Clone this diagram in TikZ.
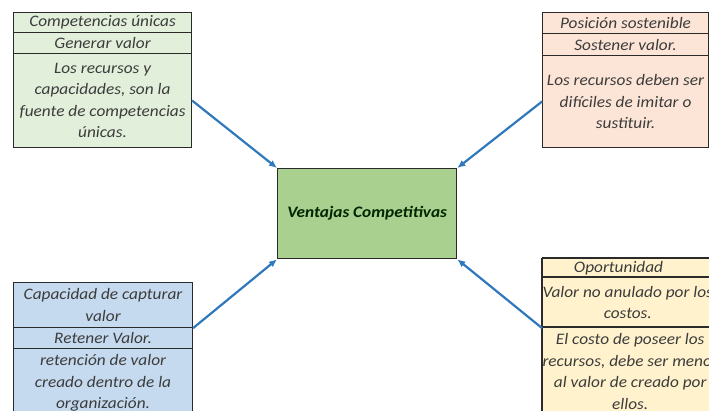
\documentclass[tikz,border=0pt]{standalone}
\usepackage{fontspec}
\setmainfont{Carlito}[FakeStretch=1.08]
\usetikzlibrary{arrows.meta,backgrounds}

\definecolor{greenpale}{HTML}{E2EFDA}
\definecolor{peach}{HTML}{FCE4D6}
\definecolor{bluepale}{HTML}{C5DAEF}
\definecolor{cream}{HTML}{FFF2CC}
\definecolor{greenmid}{HTML}{A9D08E}
\definecolor{arrowblue}{HTML}{2F78BC}
\definecolor{txt}{HTML}{3C3C3C}
\definecolor{border}{HTML}{2A2A2A}

\tikzset{
  cell/.style={draw=border, line width=1.1pt, anchor=north west, inner sep=0pt,
    align=center, text=txt,
    font=\fontsize{16}{21.5}\selectfont\itshape},
  plaincell/.style={cell, draw=none},
  hub/.style={draw=border, line width=1.3pt, fill=greenmid, anchor=north west,
    minimum width=179pt, minimum height=90pt, inner sep=0pt,
    text=black!85!green, font=\fontsize{16}{20}\selectfont\bfseries\itshape},
  link/.style={draw=arrowblue, line width=2.2pt,
    -{Latex[length=8pt,width=7pt]}},
  edge/.style={draw=border, line width=1.1pt}
}

\begin{document}
\begin{tikzpicture}[x=1pt,y=-1pt]
  \useasboundingbox (0,0) rectangle (709,410);
  \clip (0,0) rectangle (709,410);

  % central box
  \node[hub] (hub) at (277,168) {Ventajas Competitivas};

  % upper left box
  \node[cell, fill=greenpale, minimum width=178pt, minimum height=20pt]
    (tl1) at (13,12) {Competencias únicas};
  \node[cell, fill=greenpale, minimum width=178pt, minimum height=21pt]
    (tl2) at (13,32) {Generar valor};
  \node[cell, fill=greenpale, minimum width=178pt, minimum height=94pt]
    (tl3) at (13,53) {Los recursos y\\capacidades, son la\\fuente de competencias\\únicas.};

  % upper right box
  \node[cell, fill=peach, minimum width=166pt, minimum height=21pt]
    (tr1) at (542,12) {Posición sostenible};
  \node[cell, fill=peach, minimum width=166pt, minimum height=22pt]
    (tr2) at (542,33) {Sostener valor.};
  \node[cell, fill=peach, minimum width=166pt, minimum height=92pt]
    (tr3) at (542,55) {Los recursos deben ser\\difíciles de imitar o\\sustituir.};

  % lower left box
  \node[cell, fill=bluepale, minimum width=179pt, minimum height=45pt]
    (bl1) at (13,282) {Capacidad de capturar\\valor};
  \node[cell, fill=bluepale, minimum width=179pt, minimum height=21pt]
    (bl2) at (13,327) {Retener Valor.};
  \node[cell, fill=bluepale, minimum width=179pt, minimum height=69pt]
    (bl3) at (13,348) {retención de valor\\creado dentro de la\\organización.};

  % lower right box, running past the right edge
  \node[plaincell, fill=cream, minimum width=152pt, minimum height=19pt]
    (br1) at (542,258) {Oportunidad};
  \node[plaincell, fill=cream, minimum width=152pt, minimum height=50pt]
    (br2) at (542,277) {Valor no anulado por los\\costos.};
  \node[plaincell, fill=cream, minimum width=152pt, minimum height=88pt]
    (br3) at (542,327) {El costo de poseer los\\recursos, debe ser menor\\al valor de creado por\\ellos.};
  \begin{scope}[on background layer]
    \fill[cream] (br1.north east) rectangle ([xshift=30pt]br3.south east);
  \end{scope}
  \draw[edge] (br1.north west) -- (br3.south west);
  \draw[edge] (br1.north west) -- ([xshift=30pt]br1.north east);
  \draw[edge] (br2.north west) -- ([xshift=30pt]br2.north east);
  \draw[edge] (br3.north west) -- ([xshift=30pt]br3.north east);

  % connectors into the central box
  \draw[link] (tl3.east) -- (hub.north west);
  \draw[link] (tr3.west) -- (hub.north east);
  \draw[link] (bl1.south east) -- (hub.south west);
  \draw[link] (br2.south west) -- (hub.south east);
\end{tikzpicture}
\end{document}
